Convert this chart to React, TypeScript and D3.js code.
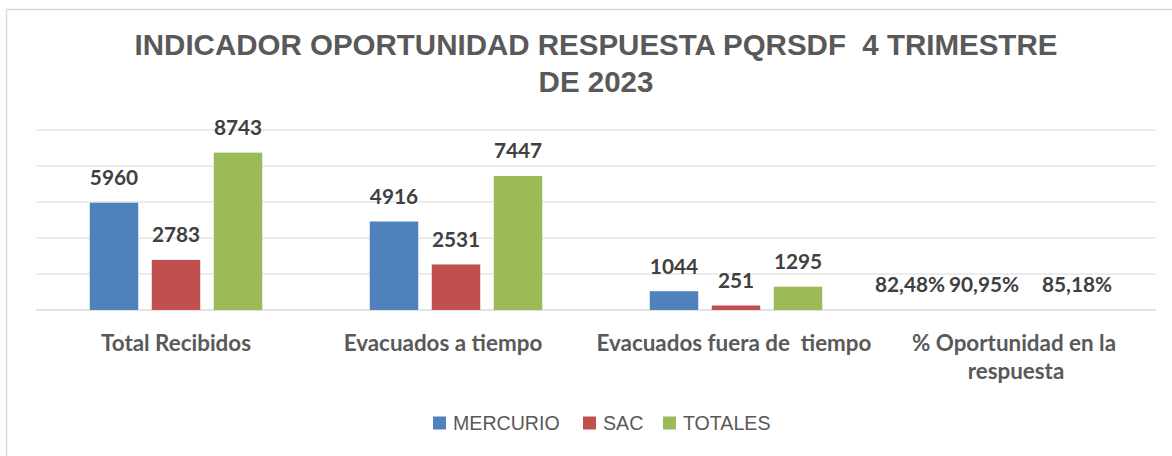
import React from "react";
import * as d3 from "d3";

const categories = ["Total Recibidos", "Evacuados a tiempo", "Evacuados fuera de  tiempo", "% Oportunidad en la respuesta"];
const seriesNames = ["MERCURIO", "SAC", "TOTALES"];
const mercurio = [5960, 4916, 1044, 0.8248];
const sac = [2783, 2531, 251, 0.9095];
const totales = [8743, 7447, 1295, 0.8518];
const labelsMercurio = ["5960", "4916", "1044", "82,48%"];
const labelsSac = ["2783", "2531", "251", "90,95%"];
const labelsTotales = ["8743", "7447", "1295", "85,18%"];
const yTicks = [0, 2000, 4000, 6000, 8000, 10000];
const titleLines = ["INDICADOR OPORTUNIDAD RESPUESTA PQRSDF  4 TRIMESTRE", "DE 2023"];

const colors = ["#4F81BD", "#C0504D", "#9BBB59"];
// manual label nudges (layout only) for the percentage category
const labelDx = [
  [0, 0, 0, -44],
  [0, 0, 0, -32],
  [0, 0, 0, -1],
];
const catLabelDx = [0, -13, -2, -2];

const W = 1172;
const H = 456;
const plotLeft = 36;
const plotRight = 1156;
const plotTop = 130;
const plotBottom = 310;

export default function App() {
  const series = [mercurio, sac, totales];
  const labels = [labelsMercurio, labelsSac, labelsTotales];
  const x0 = d3.scaleBand<string>().domain(categories).range([plotLeft, plotRight]).padding(0);
  const x1 = d3
    .scaleBand<string>()
    .domain(seriesNames)
    .range([0, x0.bandwidth()])
    .paddingInner(0.218)
    .paddingOuter(0.867);
  const y = d3.scaleLinear().domain([0, 10000]).range([plotBottom, plotTop]);

  const catLines = (c: string) => {
    if (c.startsWith("% Oportunidad")) return ["% Oportunidad en la", "respuesta"];
    return [c];
  };

  const legendItems = [
    { name: "MERCURIO", sx: 433, tx: 453 },
    { name: "SAC", sx: 583, tx: 603 },
    { name: "TOTALES", sx: 663, tx: 683 },
  ];

  return (
    <svg
      width={W}
      height={H}
      style={{ position: "absolute", left: 0, top: 0, background: "#fff" }}
      xmlns="http://www.w3.org/2000/svg"
    >
      <rect x={0} y={0} width={W} height={H} fill="#fff" />
      {/* chart border (cropped at right/bottom) */}
      <line x1={6.5} y1={9.5} x2={W} y2={9.5} stroke="#D9D9D9" strokeWidth={1.5} />
      <line x1={6.5} y1={9.5} x2={6.5} y2={H} stroke="#D9D9D9" strokeWidth={1.5} />

      {/* title */}
      <g fontFamily="'Liberation Sans', Arial, sans-serif" fontWeight="bold" fontSize={29.5} fill="#595959" textAnchor="middle">
        {titleLines.map((t, i) => (
          <text key={i} x={596} y={55 + i * 36.7} style={{ whiteSpace: "pre" }}>
            {t}
          </text>
        ))}
      </g>

      {/* gridlines */}
      {yTicks.map((t) => (
        <line
          key={t}
          x1={plotLeft}
          x2={plotRight}
          y1={y(t)}
          y2={y(t)}
          stroke="#D9D9D9"
          strokeWidth={t === 0 ? 1.5 : 1.2}
        />
      ))}

      {/* bars */}
      {series.map((vals, si) =>
        vals.map((v, ci) => (
          <rect
            key={`${si}-${ci}`}
            x={(x0(categories[ci]) ?? 0) + (x1(seriesNames[si]) ?? 0)}
            y={y(v)}
            width={x1.bandwidth()}
            height={Math.max(0, plotBottom - y(v))}
            fill={colors[si]}
          />
        ))
      )}

      {/* data labels */}
      <g fontFamily="Lato, 'Open Sans', sans-serif" fontWeight="bold" fontSize={20.8} fill="#404040" textAnchor="middle">
        {series.map((vals, si) =>
          vals.map((v, ci) => (
            <text
              key={`l-${si}-${ci}`}
              x={(x0(categories[ci]) ?? 0) + (x1(seriesNames[si]) ?? 0) + x1.bandwidth() / 2 + labelDx[si][ci]}
              y={y(v) - 17.5}
            >
              {labels[si][ci]}
            </text>
          ))
        )}
      </g>

      {/* category labels */}
      <g fontFamily="Lato, 'Open Sans', sans-serif" fontWeight="bold" fontSize={22.4} fill="#595959" textAnchor="middle">
        {categories.map((c, ci) =>
          catLines(c).map((line, li) => (
            <text
              key={`c-${ci}-${li}`}
              x={(x0(c) ?? 0) + x0.bandwidth() / 2 + (li === 0 ? catLabelDx[ci] : 0)}
              y={350.5 + li * 28}
              style={{ whiteSpace: "pre" }}
            >
              {line}
            </text>
          ))
        )}
      </g>

      {/* legend */}
      <g fontFamily="'Liberation Sans', Arial, sans-serif" fontSize={19.6} fill="#595959">
        {legendItems.map((it, i) => (
          <g key={it.name}>
            <rect x={it.sx} y={416.5} width={13} height={13} fill={colors[i]} />
            <text x={it.tx} y={430}>
              {seriesNames[i]}
            </text>
          </g>
        ))}
      </g>
    </svg>
  );
}
